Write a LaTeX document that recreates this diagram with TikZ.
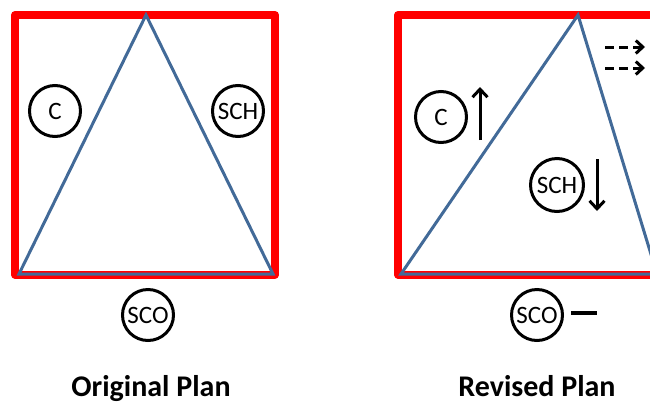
\documentclass[tikz,border=0pt]{standalone}
\usepackage{fontspec}
\setmainfont{Carlito}
\usetikzlibrary{arrows.meta}
\definecolor{frame}{RGB}{255,0,0}
\definecolor{tri}{RGB}{66,106,152}
\tikzset{
  x=1pt, y=-1pt,
  planbox/.style={draw=frame, line width=8pt, line join=round},
  wedge/.style={draw=tri, line width=3pt, line join=miter},
  role/.style={circle, draw=black, line width=3pt, minimum size=51pt, inner sep=0pt, font=\fontsize{25}{25}\selectfont},
  trend/.style={line width=3pt, -{Straight Barb[length=8pt,width=15pt,line width=3pt]}},
  drift/.style={line width=3pt, dash pattern=on 9pt off 5pt, -{Straight Barb[length=7pt,width=13pt,line width=3pt]}},
  caption/.style={anchor=base, inner sep=0pt, font=\fontsize{30}{30}\selectfont\bfseries}
}
\begin{document}
\begin{tikzpicture}
\useasboundingbox (0,0) rectangle (650,405);

% Original plan
\draw[planbox] (15,15) rectangle (275,274.5);
\coordinate (oA) at (19,274);
\coordinate (oB) at (146,15);
\coordinate (oC) at (273,274);
\draw[wedge] (oA) -- (oB) -- (oC) -- cycle;
\node[role] (oc) at (55,111) {C};
\node[role] (osch) at (238,111) {SCH};
\node[role] (osco) at (148,315) {SCO};
\node[caption] (ocap) at (151,396) {Original Plan};

% Revised plan
\draw[planbox] (398,15) rectangle (658,274.5);
\coordinate (rA) at (401,274);
\coordinate (rB) at (578,15);
\coordinate (rC) at (657,274);
\draw[wedge] (rA) -- (rB) -- (rC) -- cycle;
\node[role] (rc) at (441,117) {C};
\node[role, minimum size=53pt] (rsch) at (557,185) {SCH};
\node[role] (rsco) at (537,315) {SCO};
\node[caption] (rcap) at (537,396) {Revised Plan};

\coordinate (up0) at (480,140);
\coordinate (up1) at (480,87);
\draw[trend] (up0) -- (up1);
\coordinate (dn0) at (597,159);
\coordinate (dn1) at (597,211);
\draw[trend] (dn0) -- (dn1);
\coordinate (m0) at (571,313);
\coordinate (m1) at (597,313);
\draw[line width=4pt] (m0) -- (m1);

\coordinate (d0) at (605,47);
\coordinate (d1) at (645,47);
\coordinate (e0) at (605,68);
\coordinate (e1) at (645,68);
\draw[drift] (d0) -- (d1);
\draw[drift] (e0) -- (e1);
\end{tikzpicture}
\end{document}
